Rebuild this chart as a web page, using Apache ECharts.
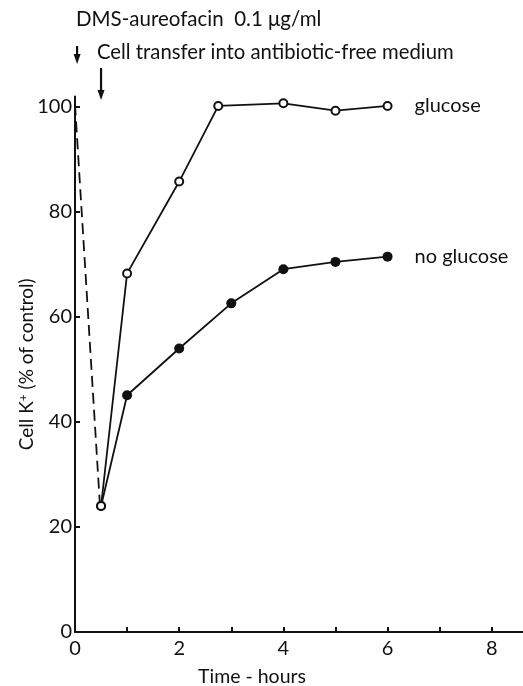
<!DOCTYPE html>
<html>
<head>
<meta charset="utf-8">
<script src="https://cdn.jsdelivr.net/npm/echarts@6/dist/echarts.min.js"></script>
<style>
html,body{margin:0;padding:0;background:#fff;}
#chart{width:523px;height:686px;}
</style>
</head>
<body>
<div id="chart"></div>
<script>
// Data
var glucoseX = [0.5, 1, 2, 2.75, 4, 5, 6];
var glucoseY = [24, 68.3, 85.8, 100.2, 100.7, 99.3, 100.2];
var noGlucoseX = [0.5, 1, 2, 3, 4, 5, 6];
var noGlucoseY = [24, 45.1, 54, 62.6, 69.1, 70.5, 71.5];
var dropX = [0, 0.48];
var dropY = [100.5, 24];
var xTickValues = [0, 1, 2, 3, 4, 5, 6, 7, 8];
var xLabelValues = [0, 2, 4, 6, 8];
var yTickValues = [0, 20, 40, 60, 80, 100];
var seriesNames = ['glucose', 'no glucose'];
var titleLine1 = 'DMS-aureofacin  0.1 \u03bcg/ml';
var titleLine2 = 'Cell transfer into antibiotic-free medium';
var xName = 'Time - hours';

function pairs(xs, ys) { return xs.map(function (x, i) { return [x, ys[i]]; }); }

var FONT = 'Lato';
var chart = echarts.init(document.getElementById('chart'), null, {renderer: 'canvas'});

function endLabel(name, n, size) {
  return {
    show: true, position: 'right', distance: 22,
    fontFamily: FONT, fontSize: size, color: '#111',
    formatter: function (p) { return p.dataIndex === n - 1 ? name : ''; }
  };
}

var option = {
  animation: false,
  backgroundColor: '#fff',
  grid: {left: 75, right: 0, top: 96.5, bottom: 54, containLabel: false},
  xAxis: {
    type: 'value', min: 0, max: 8.6,
    axisLine: {show: true, lineStyle: {color: '#111', width: 2}},
    axisTick: {show: true, inside: true, length: 5, lineStyle: {color: '#111', width: 2}, customValues: xTickValues},
    axisLabel: {customValues: xLabelValues, fontFamily: FONT, fontSize: 20, color: '#111', margin: 7},
    splitLine: {show: false}
  },
  yAxis: {
    type: 'value', min: 0, max: 102,
    name: 'Cell K{sup|+} (% of control)',
    nameLocation: 'middle', nameGap: 38, nameMoveOverlap: false,
    nameTextStyle: {fontFamily: FONT, fontSize: 19, color: '#111',
      rich: {sup: {fontSize: 12, verticalAlign: 'top', padding: [0, 0, 8, 0], fontFamily: FONT, color: '#111'}}},
    axisLine: {show: true, lineStyle: {color: '#111', width: 2}},
    axisTick: {show: true, inside: true, length: 5, lineStyle: {color: '#111', width: 2}, customValues: yTickValues},
    axisLabel: {customValues: yTickValues, fontFamily: FONT, fontSize: 20, color: '#111', margin: 3},
    splitLine: {show: false}
  },
  series: [
    {
      type: 'line', data: pairs(dropX, dropY), showSymbol: false, symbol: 'none',
      lineStyle: {color: '#111', width: 1.8, type: [11, 6]}, z: 1
    },
    {
      name: seriesNames[1], type: 'line', data: pairs(noGlucoseX, noGlucoseY),
      symbol: 'circle', symbolSize: 10,
      itemStyle: {color: '#111', borderColor: '#111', borderWidth: 0},
      lineStyle: {color: '#111', width: 1.8},
      label: endLabel(seriesNames[1], noGlucoseX.length, 20), z: 2
    },
    {
      name: seriesNames[0], type: 'line', data: pairs(glucoseX, glucoseY),
      symbol: 'circle', symbolSize: 8,
      itemStyle: {color: '#fff', borderColor: '#111', borderWidth: 2},
      lineStyle: {color: '#111', width: 1.8},
      label: endLabel(seriesNames[0], glucoseX.length, 20), z: 3
    }
  ]
};
chart.setOption(option);

// annotations: arrows and texts
var xa = chart.convertToPixel({gridIndex: 0}, [0.04, 0])[0];
var xb = chart.convertToPixel({gridIndex: 0}, [0.5, 0])[0];
function arrow(x, y1, y2) {
  return [
    {type: 'line', shape: {x1: x, y1: y1, x2: x, y2: y2 - 6}, style: {stroke: '#111', lineWidth: 2.2}},
    {type: 'polygon', shape: {points: [[x - 3.5, y2 - 10], [x + 3.5, y2 - 10], [x, y2]]}, style: {fill: '#111'}}
  ];
}
var g = [];
g = g.concat(arrow(xa, 46, 64));
g = g.concat(arrow(xb, 68, 100));
g.push({type: 'text', left: 76, top: 9, style: {text: titleLine1, font: '20.5px ' + FONT, fill: '#111'}});
g.push({type: 'text', left: 97, top: 42, style: {text: titleLine2, font: '20.3px ' + FONT, fill: '#111'}});
g.push({type: 'text', x: 252, y: 677, style: {text: xName, font: '19.5px ' + FONT, fill: '#111', align: 'center', verticalAlign: 'middle'}});
chart.setOption({graphic: g});
</script>
</body>
</html>
